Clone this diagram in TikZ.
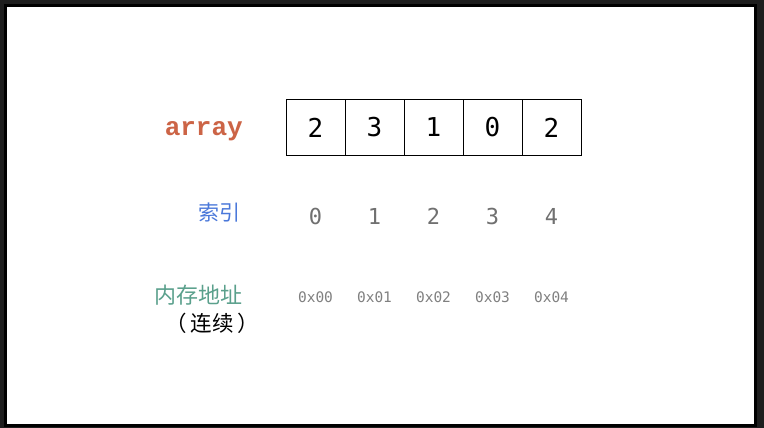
\documentclass[tikz,border=0pt]{standalone}
\usepackage{fontspec}
\usepackage{tikz}
\usetikzlibrary{positioning}
\setmonofont{DejaVu Sans Mono}
\newfontfamily\cjk{Noto Sans CJK SC}
\newfontfamily\boldmono{Liberation Mono}
\definecolor{FrameDark}{HTML}{1E1E1E}
\definecolor{ArrayRed}{HTML}{CC6446}
\definecolor{IndexBlue}{HTML}{4A78DA}
\definecolor{MemGreen}{HTML}{5AA08C}
\definecolor{SoftGray}{HTML}{707070}
\definecolor{AddrGray}{HTML}{808080}

\begin{document}
\begin{tikzpicture}[x=1pt, y=-1pt,
    cell/.style={draw=black, line width=1pt, minimum width=59pt, minimum height=55pt,
        inner sep=0pt, font=\ttfamily\fontsize{26}{29}\selectfont},
    idx/.style={text=SoftGray, inner sep=0pt, font=\ttfamily\fontsize{22}{26}\selectfont},
    addr/.style={text=AddrGray, inner sep=0pt, font=\ttfamily\fontsize{14.5}{17}\selectfont}]
        % Frame
        \fill[FrameDark] (0,0) rectangle (764,428);
        \draw[black, line width=3pt, fill=white] (5.5,5.5) rectangle (755,425);

        % Cells
        \foreach \i/\v in {0/2, 1/3, 2/1, 3/0, 4/2} {
            \node[cell] (cell\i) at (315.5+59*\i, 127.5) {\v};
        }

        % Index and address rows
        \foreach \i in {0,...,4} {
            \node[idx] (idx\i) at (315.5+59*\i, 216) {\i};
            \node[addr] (addr\i) at (315.5+59*\i, 297) {0x0\i};
        }

        % Labels
        \node[anchor=east, inner sep=0pt, text=ArrayRed, font=\boldmono\bfseries\fontsize{26}{30}\selectfont] (arrlabel) at (243, 131) {array};
        \node[anchor=east, inner sep=0pt, text=IndexBlue, font=\cjk\fontsize{21}{25}\selectfont] (idxlabel) at (241, 213) {索引};
        \node[anchor=east, inner sep=0pt, text=MemGreen, font=\cjk\fontsize{22}{26}\selectfont] (memlabel) at (243, 295) {内存地址};
        \node[anchor=east, inner sep=0pt, font=\cjk\fontsize{21.5}{25}\selectfont] (contlabel) at (259.5, 323) {（\hspace{4pt}连续\hspace{4pt}）};

    \end{tikzpicture}
\end{document}
